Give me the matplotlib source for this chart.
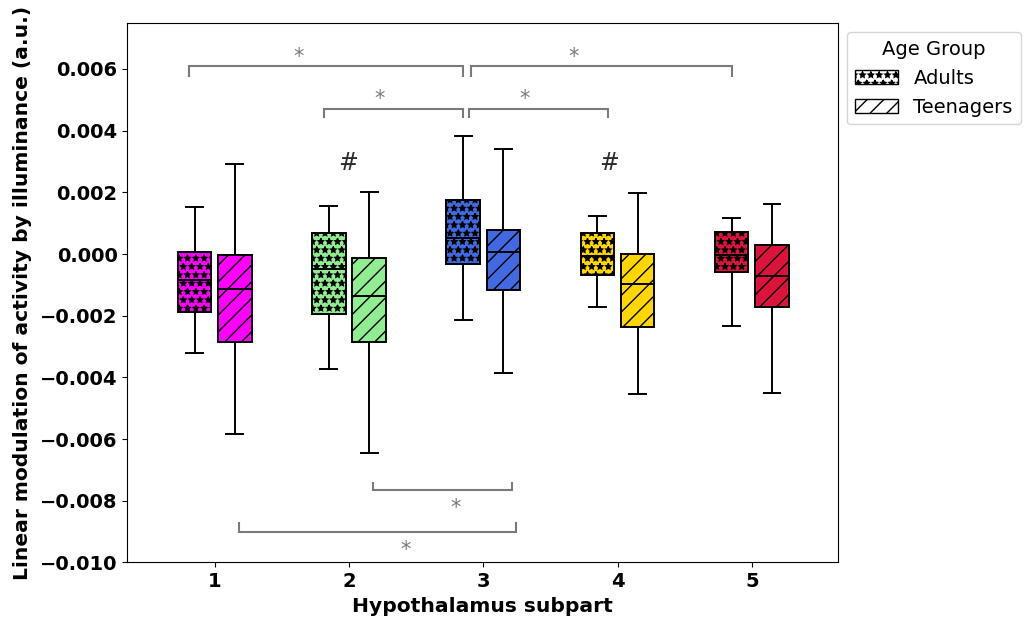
import matplotlib
matplotlib.use("Agg")
import matplotlib.pyplot as plt
from matplotlib.patches import Patch

plt.rcParams["hatch.linewidth"] = 1.0

# ---- data -------------------------------------------------------------
subparts = ["1", "2", "3", "4", "5"]
groups = ["Adults", "Teenagers"]
colors = ["#FF00FF", "#90EE90", "#4169E1", "#FFD700", "#DC143C"]

# box statistics per subpart (a.u.)
adults_whislo = [-0.00320, -0.00373, -0.00214, -0.00171, -0.00233]
adults_q1     = [-0.00187, -0.00194, -0.00032, -0.00067, -0.00058]
adults_med    = [-0.00085, -0.00048,  0.00053, -0.00007, -0.00004]
adults_q3     = [ 0.00007,  0.00067,  0.00176,  0.00067,  0.00073]
adults_whishi = [ 0.00152,  0.00155,  0.00384,  0.00122,  0.00116]

teens_whislo = [-0.00582, -0.00644, -0.00387, -0.00455, -0.00451]
teens_q1     = [-0.00286, -0.00286, -0.00116, -0.00237, -0.00172]
teens_med    = [-0.00114, -0.00135,  0.00006, -0.00098, -0.00071]
teens_q3     = [-0.00003, -0.00012,  0.00079, -0.00001,  0.00028]
teens_whishi = [ 0.00293,  0.00202,  0.00342,  0.00199,  0.00161]

# significance brackets: (x_start, x_end, y_line, y_tip, x_label, y_label)
brackets = [
    (-0.189, 1.851, 0.006083, 0.005759, 0.628, 0.006382),
    (1.906, 3.850, 0.006083, 0.005759, 2.675, 0.006382),
    (0.814, 1.851, 0.004703, 0.004444, 1.231, 0.005022),
    (1.894, 2.931, 0.004703, 0.004444, 2.311, 0.005022),
    (1.181, 2.214, -0.007650, -0.007411, 1.797, -0.008235),
    (0.181, 2.241, -0.009011, -0.008729, 1.422, -0.009586),
]
hash_marks = [(0.993, 0.00296), (2.936, 0.00296)]

# ---- figure -----------------------------------------------------------
fig = plt.figure(figsize=(10.24, 6.24), dpi=100)
ax = fig.add_axes([0.1243, 0.0986, 0.6937, 0.8650])

def make_stats(lo, q1, med, q3, hi):
    return [dict(whislo=a, q1=b, med=c, q3=d, whishi=e, fliers=[])
            for a, b, c, d, e in zip(lo, q1, med, q3, hi)]

adult_stats = make_stats(adults_whislo, adults_q1, adults_med, adults_q3, adults_whishi)
teen_stats = make_stats(teens_whislo, teens_q1, teens_med, teens_q3, teens_whishi)

offset = 0.15
width = 0.25
line_kw = dict(color="black", linewidth=1.4)
for stats, dx, hatch in [(adult_stats, -offset, "**"), (teen_stats, offset, "//")]:
    pos = [i + dx for i in range(len(subparts))]
    res = ax.bxp(stats, positions=pos, widths=width, patch_artist=True,
                 showfliers=False, manage_ticks=False,
                 boxprops=dict(linewidth=1.4, edgecolor="black"),
                 whiskerprops=line_kw, capprops=line_kw, medianprops=line_kw)
    for box, c in zip(res["boxes"], colors):
        box.set_facecolor(c)
        box.set_hatch(hatch)

bracket_color = "#7a7a7a"
for x0, x1, yl, yt, xs, ys in brackets:
    ax.plot([x0, x0, x1, x1], [yt, yl, yl, yt], color=bracket_color,
            linewidth=1.5, solid_joinstyle="miter", clip_on=False)
    ax.text(xs, ys, "*", ha="center", va="center", fontsize=15,
            color=bracket_color)

for hx, hy in hash_marks:
    ax.text(hx, hy, "#", ha="center", va="center", fontsize=17, color="#2a2a2a")

ax.set_xlim(-0.651, 4.639)
ax.set_ylim(-0.010, 0.0075)
ax.set_xticks(range(len(subparts)))
ax.set_xticklabels(subparts)
ax.set_yticks([-0.010, -0.008, -0.006, -0.004, -0.002, 0.0, 0.002, 0.004, 0.006])
for lab in ax.get_xticklabels() + ax.get_yticklabels():
    lab.set_fontweight("bold")
    lab.set_fontsize(14)

ax.set_xlabel("Hypothalamus subpart", fontsize=14.6, fontweight="bold")
ax.set_ylabel("Linear modulation of activity by illuminance (a.u.)",
              fontsize=14.6, fontweight="bold", labelpad=6)

handles = [Patch(facecolor="white", edgecolor="black", hatch="**", label="Adults"),
           Patch(facecolor="white", edgecolor="black", hatch="//", label="Teenagers")]
ax.legend(handles=handles, title="Age Group", loc="upper left",
          bbox_to_anchor=(1.0, 1.0), fontsize=14, title_fontsize=14,
          handlelength=2.2)

fig.savefig("out.png", dpi=100)
